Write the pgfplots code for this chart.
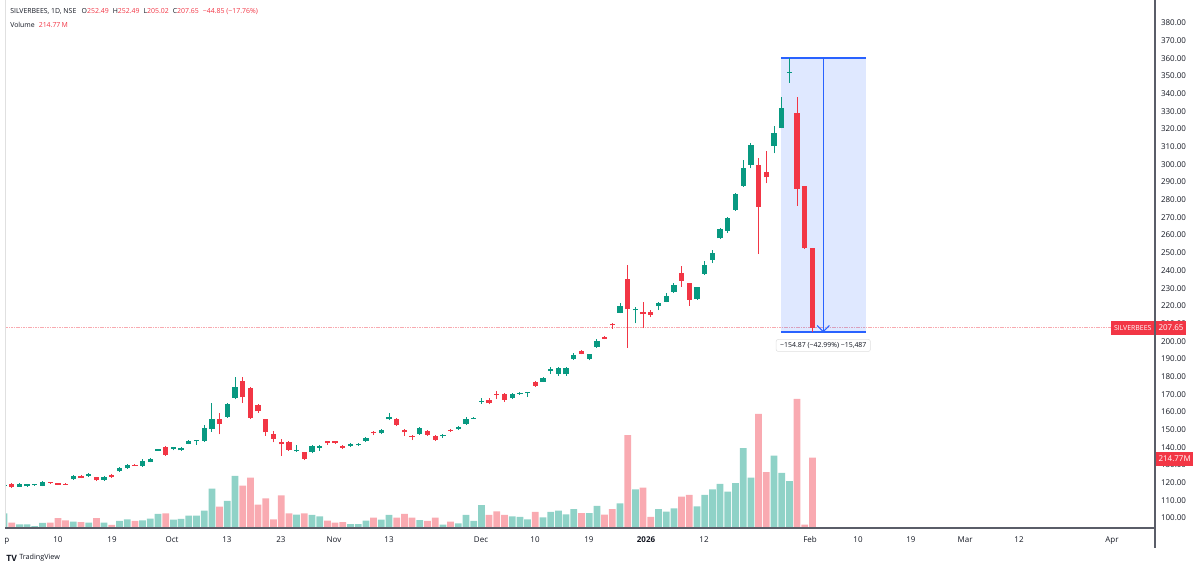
\documentclass[border=0pt]{standalone}
\usepackage{fontspec}
\setmainfont{Open Sans}
\usepackage{pgfplots}
\usepackage{pgfplotstable}
\pgfplotsset{compat=1.18}
\definecolor{upc}{RGB}{8,153,129}
\definecolor{dnc}{RGB}{242,54,69}
\definecolor{vup}{RGB}{143,210,199}
\definecolor{vdn}{RGB}{249,170,177}
\definecolor{tvblue}{RGB}{41,98,255}
\definecolor{txt}{RGB}{19,23,34}
\definecolor{axc}{RGB}{90,93,104}
\definecolor{lpl}{RGB}{248,170,176}

\pgfplotstableread{
k O H L C
0 118.0 118.8 117.9 118.6
2 117.8 119.8 117.6 119.1
3 117.9 119.5 117.6 119.1
4 118.5 119.3 118.3 119.1
5 118.1 120.8 117.9 120.2
9 121.9 124.2 121.5 123.8
11 123.8 125.5 123.4 124.9
13 121.5 123.8 121.0 123.2
15 126.4 128.7 126.1 128.1
16 128.1 130.4 127.8 129.8
18 129.4 133.2 128.9 132.5
19 131.7 133.8 131.5 133.2
20 138.1 139.2 137.9 138.9
22 139.1 140.4 138.3 140.0
23 138.3 140.0 137.9 139.6
24 142.1 144.2 141.7 143.6
25 143.4 144.2 141.3 144.0
26 143.8 152.8 143.2 150.7
27 150.3 164.9 148.8 155.8
29 157.3 165.2 156.7 164.3
30 168.1 179.9 167.1 174.3
38 137.7 141.5 137.5 138.6
40 137.5 141.3 136.6 140.9
41 139.8 141.3 138.1 140.5
45 140.7 142.4 140.3 141.9
46 141.1 142.2 140.7 141.9
47 143.7 146.0 143.2 145.2
49 147.9 150.5 147.5 150.0
50 155.8 159.2 155.4 156.9
54 147.5 151.7 147.0 150.8
57 146.2 147.5 145.5 147.2
59 150.2 152.1 149.8 151.7
60 153.2 157.0 152.6 156.0
61 156.2 157.0 155.9 156.6
62 165.8 167.7 164.5 166.3
66 167.7 170.5 167.2 170.0
67 170.0 171.3 169.6 170.9
68 170.5 171.3 168.7 171.1
70 177.0 179.6 176.8 179.0
71 183.2 185.3 181.7 184.1
72 181.5 185.3 180.4 184.9
73 181.3 185.3 180.4 184.7
74 189.8 193.2 189.4 192.2
76 189.8 193.0 189.2 192.6
77 196.7 201.1 196.4 200.1
80 216.2 221.8 215.8 219.9
82 217.4 219.5 210.1 218.4
85 219.9 222.3 217.6 221.8
86 222.3 227.0 222.0 225.7
87 227.8 232.7 227.4 231.8
90 224.1 230.9 223.4 230.5
91 238.1 245.1 237.5 243.1
92 246.0 251.6 244.1 249.8
93 258.2 264.3 257.7 263.3
94 262.6 270.1 261.4 269.6
95 274.3 283.7 273.9 283.1
96 288.0 302.5 287.5 297.8
97 299.7 312.0 297.8 311.0
100 310.5 321.8 306.3 318.0
101 320.8 338.0 320.4 331.8
102 351.8 360.3 346.3 352.4
}\upcandles

\pgfplotstableread{
k O H L C
1 119.1 119.6 117.0 117.4
6 120.2 120.6 119.4 119.8
7 119.6 120.0 118.6 118.9
8 119.5 119.7 118.7 118.9
10 123.8 124.4 122.4 122.9
12 123.0 123.4 120.9 121.3
14 124.3 124.7 122.8 123.2
17 130.2 130.6 129.3 129.6
21 140.0 140.6 135.1 135.7
28 155.8 159.6 147.3 153.3
31 177.5 179.9 165.2 168.2
32 173.7 174.3 156.2 156.7
33 163.9 164.3 159.6 160.3
34 155.8 156.2 146.4 148.4
35 147.5 149.2 142.8 144.9
36 143.0 144.7 135.3 141.7
37 143.0 143.4 138.1 138.5
39 137.1 137.5 132.8 133.4
42 143.4 143.7 141.5 142.2
43 143.4 143.7 142.0 142.4
44 140.5 141.1 139.0 139.6
48 148.8 149.4 146.9 147.9
51 156.2 156.6 152.0 152.6
52 150.0 150.3 146.6 148.4
53 146.6 147.0 144.1 146.0
55 149.4 149.8 146.4 147.2
56 146.4 147.0 143.8 144.2
58 149.6 150.4 148.7 149.1
63 166.8 167.7 164.3 164.9
64 170.0 172.1 167.2 169.6
65 170.0 170.5 165.8 166.8
69 176.8 177.5 174.3 174.9
75 194.7 195.0 192.6 193.0
78 202.2 203.0 201.1 201.5
79 209.7 210.5 207.1 209.0
81 235.2 243.1 196.3 218.0
83 216.5 222.0 207.3 215.2
84 216.3 217.6 213.5 215.0
88 238.4 242.6 230.9 234.3
89 232.8 232.9 220.0 223.4
98 299.7 303.5 249.2 276.1
99 295.6 307.6 289.3 292.6
103 329.3 338.0 276.7 286.1
104 287.8 287.8 252.3 252.5
105 252.49 252.49 205.02 207.65
}\dncandles

\pgfplotstableread{
k V
0 44.8
2 11.2
3 11.2
4 6.1
5 15.3
9 19.3
11 16.3
13 16.3
15 21.4
16 26.5
18 23.4
19 28.5
20 42.8
22 25.4
23 27.5
24 37.7
25 37.7
26 52.9
27 120.1
29 82.5
30 158.8
38 40.7
40 39.7
41 35.6
45 12.2
46 12.2
47 22.4
49 25.4
50 39.7
54 24.4
57 10.2
59 14.3
60 39.7
61 21.4
62 70.2
66 35.6
67 33.6
68 26.5
70 32.6
71 48.9
72 52.9
73 41.7
74 58.0
76 45.8
77 67.2
80 75.3
82 118.1
85 58.0
86 49.9
87 60.1
90 66.2
91 100.8
92 118.1
93 134.4
94 111.0
95 137.4
96 244.3
97 153.7
100 220.9
101 168.0
102 143.5
}\volup

\pgfplotstableread{
k V
1 16.3
6 16.3
7 30.5
8 23.4
10 18.3
12 30.5
14 9.2
17 21.4
21 44.8
28 65.1
31 129.3
32 153.7
33 71.3
34 90.6
35 26.5
36 99.8
37 44.8
39 44.8
42 22.4
43 16.3
44 18.3
48 31.6
51 31.6
52 42.8
53 31.6
55 21.4
56 31.6
58 19.3
63 39.7
64 50.9
65 39.7
69 48.9
75 45.8
78 40.7
79 58.0
81 284.0
83 123.2
84 33.6
88 95.7
89 100.8
98 348.2
99 171.0
103 394.0
104 10.2
105 214.77
}\voldn

\newcommand{\tfont}{\fontsize{6}{7}\selectfont}
\newcommand{\hfont}{\fontsize{5.2}{6}\selectfont}

\begin{document}
\begin{tikzpicture}
% ---------- volume pane ----------
\begin{axis}[at={(3.75pt,0pt)}, anchor=south west, scale only axis,
  width=862.5pt, height=396pt,
  xmin=0.13, xmax=149.48, ymin=0, ymax=1612.5,
  hide axis, clip=true]
\addplot[ybar, bar width=0.88, bar shift=0pt, fill=vup, draw=none] table[x=k,y=V] {\volup};
\addplot[ybar, bar width=0.88, bar shift=0pt, fill=vdn, draw=none] table[x=k,y=V] {\voldn};
\end{axis}
% ---------- price pane ----------
\begin{axis}[at={(3.75pt,0pt)}, anchor=south west, scale only axis,
  width=862.5pt, height=396pt,
  xmin=0.13, xmax=149.48, ymin=94.34, ymax=393.0,
  axis line style={draw=none}, tick style={draw=none}, major tick length=0pt,
  yticklabel pos=right,
  ytick={100,110,...,380},
  yticklabels={100.00,110.00,120.00,130.00,140.00,150.00,160.00,170.00,180.00,190.00,200.00,210.00,220.00,230.00,240.00,250.00,260.00,270.00,280.00,290.00,300.00,310.00,320.00,330.00,340.00,350.00,360.00,370.00,380.00},
  yticklabel style={font=\tfont, text=txt, anchor=west, xshift=1pt},
  xtick={7.01,14.03,21.82,28.96,35.97,42.86,50.0,61.95,68.96,75.97,83.38,90.91,104.68,110.91,117.79,124.81,131.82,143.9},
  xticklabels={10,19,Oct,13,23,Nov,13,Dec,10,19,\textbf{2026},12,Feb,10,19,Mar,12,Apr},
  xticklabel style={font=\tfont, text=txt, anchor=center, yshift=-7.5pt, text height=1.4ex, text depth=0.2ex, inner sep=0pt},
  clip=true]
% last-price line
\draw[draw=lpl, line width=0.5pt, dash pattern=on 1.2pt off 0.6pt] (axis cs:0,207.65) -- (axis cs:150,207.65);
% measurement tool
\fill[tvblue, fill opacity=0.15] (axis cs:100.9,205.38) rectangle (axis cs:111.95,360.25);
\draw[tvblue, line width=1.4pt] (axis cs:100.9,360.25) -- (axis cs:111.95,360.25);
\draw[tvblue, line width=1.4pt] (axis cs:100.9,205.38) -- (axis cs:111.95,205.38);
\draw[tvblue, line width=0.8pt] (axis cs:106.4,360.25) -- (axis cs:106.4,205.38);
\draw[tvblue, line width=0.8pt] (axis cs:105.6,208.9) -- (axis cs:106.4,205.38) -- (axis cs:107.2,208.9);
% wicks
\addplot[draw=none, mark=none, error bars/.cd, y dir=plus, y explicit, error mark=none,
  error bar style={line width=0.75pt, draw=upc}]
  table[x=k, y=L, y error plus expr=\thisrow{H}-\thisrow{L}] {\upcandles};
\addplot[draw=none, mark=none, error bars/.cd, y dir=plus, y explicit, error mark=none,
  error bar style={line width=0.75pt, draw=dnc}]
  table[x=k, y=L, y error plus expr=\thisrow{H}-\thisrow{L}] {\dncandles};
% bodies
\addplot[draw=none, mark=none, error bars/.cd, y dir=plus, y explicit, error mark=none,
  error bar style={line width=4pt, draw=upc}]
  table[x=k, y=O, y error plus expr=\thisrow{C}-\thisrow{O}] {\upcandles};
\addplot[draw=none, mark=none, error bars/.cd, y dir=plus, y explicit, error mark=none,
  error bar style={line width=4pt, draw=dnc}]
  table[x=k, y=C, y error plus expr=\thisrow{O}-\thisrow{C}] {\dncandles};
% measurement label
\node[fill=white, draw=black!12, rounded corners=1.5pt, inner xsep=3pt, inner ysep=2.2pt,
  font=\hfont, text=txt] at (axis cs:106.4,197.6) {−154.87 (−42.99\%) −15,487};
\end{axis}
% ---------- overlays in pixel units ----------
\begin{scope}[x=0.75pt, y=0.75pt]
  \node[font=\tfont, text=txt, anchor=center, text height=1.4ex, text depth=0.2ex, inner sep=0pt] at (2.5,-10) {Sep};
  \fill[white] (-40,-60) rectangle (5,540);
  \draw[black!12, line width=0.6pt] (5,528) -- (5,0);
  \draw[axc, line width=0.9pt] (5,0) -- (1155,0);
  \draw[axc, line width=1.1pt] (1155,528) -- (1155,-20);
  % price labels on scale
  \node[fill=dnc, text=white, font=\hfont, anchor=east, inner xsep=2pt, minimum height=10.5pt] at (1154.4,200) {SILVERBEES};
  \node[fill=dnc, text=white, font=\tfont, anchor=west, inner xsep=2pt, minimum height=10.5pt] at (1155.6,200) {207.65};
  \node[fill=dnc, text=white, font=\tfont, anchor=west, inner xsep=2pt, minimum height=10.5pt] at (1155.6,69) {214.77M};
  % header
  \node[font=\hfont, anchor=west, inner sep=0pt] at (10,516) {\color{txt}SILVERBEES, 1D, NSE\hspace{4pt}O\color{dnc}252.49\hspace{3pt}\color{txt}H\color{dnc}252.49\hspace{3pt}\color{txt}L\color{dnc}205.02\hspace{3pt}\color{txt}C\color{dnc}207.65\hspace{3pt}−44.85 (−17.76\%)};
  \node[font=\hfont, anchor=west, inner sep=0pt] at (10,503) {\color{txt}Volume\hspace{3pt}\color{dnc}214.77\,M};
  % TradingView logo
  \node[font=\fontsize{6.5}{7}\selectfont\bfseries, anchor=west, inner sep=0pt, text=txt] at (6,-30) {TV};
  \node[font=\fontsize{5.4}{6}\selectfont, anchor=west, inner sep=0pt, text=txt] at (19,-30) {TradingView};
\end{scope}
\pgfresetboundingbox
\path[use as bounding box] (0,-29.25pt) rectangle (900pt,396pt);
\end{tikzpicture}
\end{document}
